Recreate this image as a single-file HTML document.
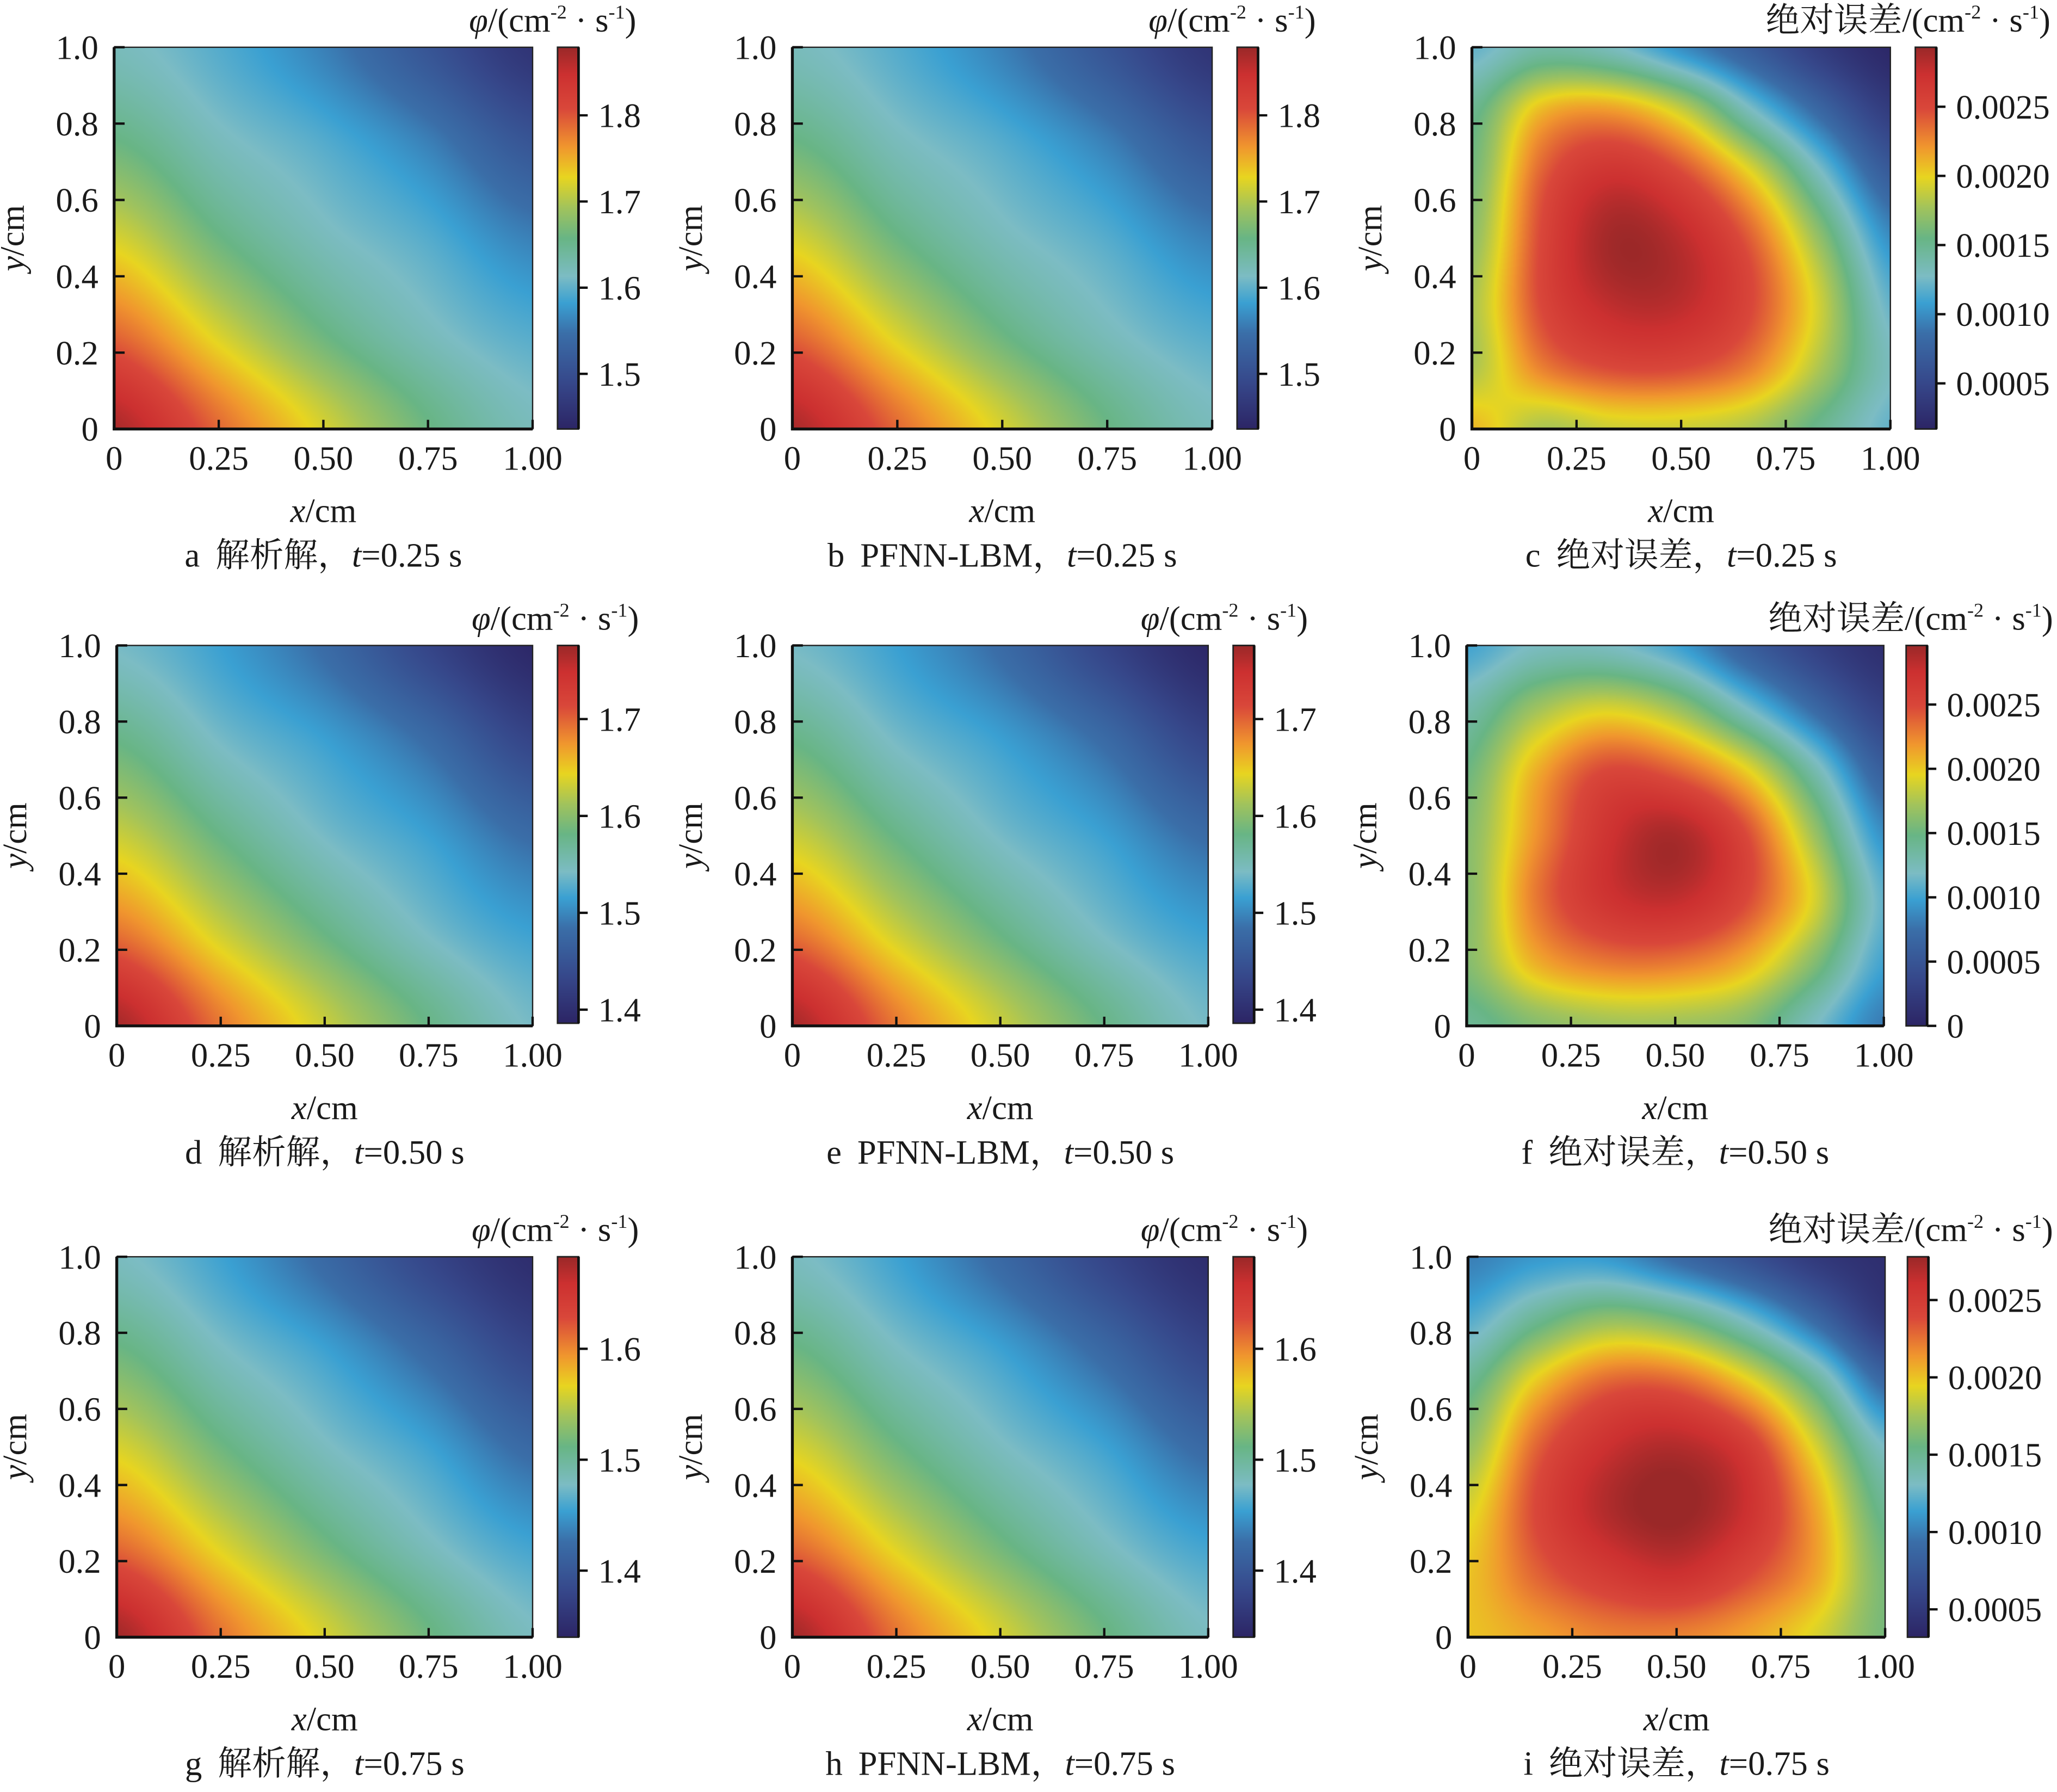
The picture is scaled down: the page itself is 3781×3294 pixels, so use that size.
<!DOCTYPE html>
<html><head><meta charset="utf-8">
<style>
html,body{margin:0;padding:0;background:#fff;}
#wrap{position:relative;width:3781px;height:3294px;overflow:hidden;background:#fff;}
canvas{position:absolute;}
svg{position:absolute;left:0;top:0;}
text{font-family:"Liberation Serif","Noto Serif CJK SC","Noto Sans CJK SC",serif;fill:#1a1a1a;}
</style></head>
<body>
<div id="wrap">
<svg id="svg" width="3781" height="3294" viewBox="0 0 1568 1366"></svg>
</div>
<script>
// ---------- data ----------
const xTicks=[0,0.25,0.5,0.75,1.0];
const xTickLabels=["0","0.25","0.50","0.75","1.00"];
const yTicks=[0,0.2,0.4,0.6,0.8,1.0];
const yTickLabels=["0","0.2","0.4","0.6","0.8","1.0"];
// analytic / PFNN grids: rows y=0..1 (bottom→top), cols x=0..1 step 0.25
const gridA=[[1.87,1.79,1.72,1.66,1.62],[1.79,1.72,1.66,1.62,1.595],[1.72,1.66,1.62,1.595,1.56],[1.66,1.62,1.595,1.56,1.51],[1.62,1.595,1.56,1.51,1.46]];
const gridB=[[1.87,1.79,1.72,1.66,1.62],[1.79,1.72,1.66,1.62,1.595],[1.72,1.66,1.62,1.595,1.56],[1.66,1.62,1.595,1.56,1.51],[1.62,1.595,1.56,1.51,1.46]];
const gridD=[[1.77,1.69,1.63,1.58,1.54],[1.69,1.63,1.58,1.54,1.515],[1.63,1.58,1.54,1.515,1.48],[1.58,1.54,1.515,1.48,1.43],[1.54,1.515,1.48,1.43,1.39]];
const gridE=[[1.77,1.69,1.63,1.58,1.54],[1.69,1.63,1.58,1.54,1.515],[1.63,1.58,1.54,1.515,1.48],[1.58,1.54,1.515,1.48,1.43],[1.54,1.515,1.48,1.43,1.39]];
const gridG=[[1.68,1.61,1.56,1.515,1.48],[1.61,1.56,1.515,1.48,1.455],[1.56,1.515,1.48,1.455,1.42],[1.515,1.48,1.455,1.42,1.38],[1.48,1.455,1.42,1.38,1.35]];
const gridH=[[1.68,1.61,1.56,1.515,1.48],[1.61,1.56,1.515,1.48,1.455],[1.56,1.515,1.48,1.455,1.42],[1.515,1.48,1.455,1.42,1.38],[1.48,1.455,1.42,1.38,1.35]];
// absolute error grids (×1e-4): rows y=0..1, cols x=0..1 step 1/6
const gridC=[[21,18,19,19,18,15,12],[18,23,25,25,23,18,13],[18,25,28,28,25,19,12],[17,25,29,28,24,17,10],[16,24,27,25,20,13,7],[15,21,22,19,13,8,4],[12,14,13,10,7,4,2]];
const gridF=[[14,16,17,17,16,12,8],[16,21,23,23,21,16,10],[16,23,27,28,25,19,11],[16,22,27,29,25,17,9],[15,21,25,24,20,13,6],[13,17,19,17,12,7,3],[10,12,12,10,6,3,1]];
const gridI=[[20,21,22,22,21,19,16],[20,23,25,26,24,21,16],[19,24,27,28,26,21,15],[17,23,26,27,25,19,13],[15,20,23,23,20,15,9],[12,15,17,16,13,9,5],[10,11,11,9,7,5,4]];
const vRangeA=[1.436,1.879], vRangeD=[1.386,1.776], vRangeG=[1.340,1.683];
const vRangeC=[1.7,29.3], vRangeF=[0,29.6], vRangeI=[3.2,27.8];
const cbTicksA=[1.5,1.6,1.7,1.8], cbTicksD=[1.4,1.5,1.6,1.7], cbTicksG=[1.4,1.5,1.6];
const cbTicksC=[5,10,15,20,25], cbTicksF=[0,5,10,15,20,25], cbTicksI=[5,10,15,20,25];
const cbLabelsPhiA=["1.5","1.6","1.7","1.8"], cbLabelsPhiD=["1.4","1.5","1.6","1.7"], cbLabelsPhiG=["1.4","1.5","1.6"];
const cbLabelsErr=["0.0005","0.0010","0.0015","0.0020","0.0025"];
const cbLabelsErrF=["0","0.0005","0.0010","0.0015","0.0020","0.0025"];

const cmapStops=[[0,"#2c2565"],[0.12,"#36478a"],[0.25,"#3a6ea8"],[0.33,"#3aa0d2"],[0.40,"#7cbcc4"],[0.50,"#68b585"],[0.58,"#a2c35c"],[0.66,"#e8d520"],[0.74,"#f0962e"],[0.84,"#d9473a"],[0.93,"#cc3030"],[1.0,"#9a2828"]];

const panels=[
 {id:"a",grid:gridA,vr:vRangeA,r:[87,36,406,327],cb:[425,36,441,327],ct:cbTicksA,cl:cbLabelsPhiA,err:false,cap:["a","解析解","0.25"],lblR:485},
 {id:"b",grid:gridB,vr:vRangeA,r:[604,36,924,327],cb:[943,36,959,327],ct:cbTicksA,cl:cbLabelsPhiA,err:false,cap:["b","PFNN-LBM","0.25"],lblR:1003},
 {id:"c",grid:gridC,vr:vRangeC,r:[1122,36,1441,327],cb:[1460,36,1476,327],ct:cbTicksC,cl:cbLabelsErr,err:true,cap:["c","绝对误差","0.25"],lblR:1563},
 {id:"d",grid:gridD,vr:vRangeD,r:[89,492,406,782],cb:[425,492,441,780],ct:cbTicksD,cl:cbLabelsPhiD,err:false,cap:["d","解析解","0.50"],lblR:487},
 {id:"e",grid:gridE,vr:vRangeD,r:[604,492,921,782],cb:[940,492,956,780],ct:cbTicksD,cl:cbLabelsPhiD,err:false,cap:["e","PFNN-LBM","0.50"],lblR:997},
 {id:"f",grid:gridF,vr:vRangeF,r:[1118,492,1436,782],cb:[1453,492,1469,782],ct:cbTicksF,cl:cbLabelsErrF,err:true,cap:["f","绝对误差","0.50"],lblR:1565},
 {id:"g",grid:gridG,vr:vRangeG,r:[89,958,406,1248],cb:[425,958,441,1248],ct:cbTicksG,cl:cbLabelsPhiG,err:false,cap:["g","解析解","0.75"],lblR:487},
 {id:"h",grid:gridH,vr:vRangeG,r:[604,958,921,1248],cb:[940,958,956,1248],ct:cbTicksG,cl:cbLabelsPhiG,err:false,cap:["h","PFNN-LBM","0.75"],lblR:997},
 {id:"i",grid:gridI,vr:vRangeI,r:[1119,958,1437,1248],cb:[1454,958,1470,1248],ct:cbTicksI,cl:cbLabelsErr,err:true,cap:["i","绝对误差","0.75"],lblR:1565}
];

// ---------- helpers ----------
const S=3781/1568;
const NS="http://www.w3.org/2000/svg";
const svg=document.getElementById('svg');
const wrap=document.getElementById('wrap');
function hex(h){return [parseInt(h.substr(1,2),16),parseInt(h.substr(3,2),16),parseInt(h.substr(5,2),16)];}
const stops=cmapStops.map(s=>[s[0],hex(s[1])]);
function cmap(t){t=Math.max(0,Math.min(1,t));for(let k=1;k<stops.length;k++){if(t<=stops[k][0]){const a=stops[k-1],b=stops[k];const f=(t-a[0])/(b[0]-a[0]);return [0,1,2].map(c=>a[1][c]+(b[1][c]-a[1][c])*f);}}return stops[stops.length-1][1];}
function cr(p0,p1,p2,p3,t){return 0.5*((2*p1)+(-p0+p2)*t+(2*p0-5*p1+4*p2-p3)*t*t+(-p0+3*p1-3*p2+p3)*t*t*t);}
function sample(G,u,v){const nr=G.length,nc=G[0].length;const fx=u*(nc-1),fy=v*(nr-1);const ix=Math.min(Math.floor(fx),nc-2),iy=Math.min(Math.floor(fy),nr-2);const tx=fx-ix,ty=fy-iy;const g=(r,c)=>G[Math.max(0,Math.min(nr-1,r))][Math.max(0,Math.min(nc-1,c))];const rows=[];for(let r=-1;r<=2;r++){rows.push(cr(g(iy+r,ix-1),g(iy+r,ix),g(iy+r,ix+1),g(iy+r,ix+2),tx));}return cr(rows[0],rows[1],rows[2],rows[3],ty);}
function el(tag,attrs,parent){const e=document.createElementNS(NS,tag);for(const k in attrs)e.setAttribute(k,attrs[k]);(parent||svg).appendChild(e);return e;}
function txt(x,y,s,anchor,size,parent){const t=el('text',{x:x,y:y,'text-anchor':anchor||'middle','font-size':size||24},parent);t.textContent=s;return t;}

// ---------- draw ----------
panels.forEach(p=>{
 const [x0,y0,x1,y1]=p.r; const [vmin,vmax]=p.vr;
 const xs=v=>x0+(x1-x0)*v, ys=v=>y1-(y1-y0)*v;
 const cv=document.createElement('canvas');
 
 
 const W=Math.round((x1-x0)*S),H=Math.round((y1-y0)*S);
 cv.width=W;cv.height=H;cv.style.left=Math.round(x0*S)+'px';cv.style.top=Math.round(y0*S)+'px';
 const ctx=cv.getContext('2d');const im=ctx.createImageData(W,H);
 for(let j=0;j<H;j++){const v=1-(j+0.5)/H;for(let i=0;i<W;i++){const u=(i+0.5)/W;const val=sample(p.grid,u,v);const c=cmap((val-vmin)/(vmax-vmin));const o=(j*W+i)*4;im.data[o]=c[0];im.data[o+1]=c[1];im.data[o+2]=c[2];im.data[o+3]=255;}}
 ctx.putImageData(im,0,0);wrap.insertBefore(cv,svg);
 const [cx0,cy0,cx1,cy1]=p.cb;
 const cb=document.createElement('canvas');
 
 
 const CW=Math.round((cx1-cx0)*S),CH=Math.round((cy1-cy0)*S);
 cb.width=CW;cb.height=CH;cb.style.left=Math.round(cx0*S)+'px';cb.style.top=Math.round(cy0*S)+'px';
 const c2=cb.getContext('2d');
 for(let j=0;j<CH;j++){const c=cmap(1-(j+0.5)/CH);c2.fillStyle='rgb('+c.map(Math.round).join(',')+')';c2.fillRect(0,j,CW,1);}
 wrap.insertBefore(cb,svg);
 const g=el('g',{});
 
 
 const fr=el('rect',{x:x0,y:y0,width:x1-x0,height:y1-y0,fill:'none',stroke:'#222','stroke-width':1},g);
 
 
 el('line',{x1:x0,y1:y0,x2:x0,y2:y1+1,stroke:'#111','stroke-width':2.2},g);
 el('line',{x1:x0-1,y1:y1,x2:x1,y2:y1,stroke:'#111','stroke-width':2.2},g);
 xTicks.forEach((v,k)=>{const X=xs(v);
  el('line',{x1:X,y1:y1,x2:X,y2:y1-7,stroke:'#111','stroke-width':1.8},g);
  const t=txt(X,y1+31,xTickLabels[k],'middle',26,g);
  
  });
 yTicks.forEach((v,k)=>{const Y=ys(v);
  el('line',{x1:x0,y1:Y,x2:x0+8,y2:Y,stroke:'#111','stroke-width':1.8},g);
  const t=txt(x0-12,Y+9,yTickLabels[k],'end',26,g);
  
  });
 const xc=(x0+x1)/2;
 const xt=el('text',{x:xc,y:y1+71,'text-anchor':'middle','font-size':26},g);
 xt.innerHTML='<tspan font-style="italic">x</tspan>/cm';
 
 
 const ym=(y0+y1)/2, yx=x0-69;
 const yt=el('text',{x:yx,y:ym,'text-anchor':'middle','font-size':26,transform:'rotate(-90 '+yx+' '+ym+')'},g);
 yt.innerHTML='<tspan font-style="italic">y</tspan>/cm';
 
 
 const cp=el('text',{x:xc,y:y1+105,'text-anchor':'middle','font-size':26},g);
 cp.innerHTML=p.cap[0]+'<tspan dx="12">'+p.cap[1]+'，</tspan><tspan font-style="italic">t</tspan>='+p.cap[2]+' s';
 
 
 el('rect',{x:cx0,y:cy0,width:cx1-cx0,height:cy1-cy0,fill:'none',stroke:'#222','stroke-width':1.2},g);
 el('line',{x1:cx1,y1:cy0,x2:cx1,y2:cy1,stroke:'#111','stroke-width':2},g);
 const cys=v=>cy1-(cy1-cy0)*(v-vmin)/(vmax-vmin);
 p.ct.forEach((v,k)=>{const Y=cys(v);
  el('line',{x1:cx1,y1:Y,x2:cx1+7,y2:Y,stroke:'#111','stroke-width':1.8},g);
  const t=txt(cx1+15,Y+9,p.cl[k],'start',26,g);
  
  });
 const ct=el('text',{x:p.lblR,y:y0-12,'text-anchor':'end','font-size':26},g);
 const unit='/(cm<tspan font-size="15" dy="-10">-2</tspan><tspan dy="10"> · s</tspan><tspan font-size="15" dy="-10">-1</tspan><tspan dy="10">)</tspan>';
 ct.innerHTML=(p.err?'绝对误差':'<tspan font-style="italic">φ</tspan>')+unit;
 
 
});
</script>
</body></html>
